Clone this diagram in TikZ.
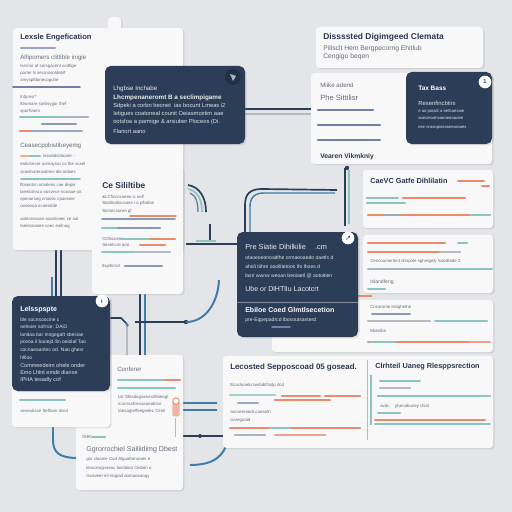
\documentclass[tikz,border=0pt]{standalone}
\usepackage{fontspec}
\setmainfont{Liberation Sans}
\newfontfamily\symbolfont{DejaVu Sans}
\usetikzlibrary{fit,shadows}
\definecolor{bggray}{HTML}{E4E5E9}
\definecolor{cardwhite}{HTML}{F8F8F9}
\definecolor{navy}{HTML}{2C3D58}
\definecolor{inkblue}{HTML}{2B3650}
\definecolor{inkgray}{HTML}{666C78}
\definecolor{slate}{HTML}{6F81A8}
\definecolor{tealbar}{HTML}{8CC4BF}
\definecolor{orangebar}{HTML}{E98C6E}
\definecolor{pipeblue}{HTML}{3E7CA9}
\definecolor{softgray}{HTML}{B5BAC3}

\begin{document}
\begin{tikzpicture}[x=0.025cm,y=-0.025cm,
  card/.style={fill=cardwhite,rounded corners=2.5pt,inner sep=0pt,
    drop shadow={opacity=.18,shadow xshift=1.2pt,shadow yshift=-1pt}},
  darkcard/.style={card,fill=navy,rounded corners=4pt},
  ttl/.style={anchor=west,inner sep=0pt,text=inkblue,font=\bfseries\fontsize{5.2}{6}\selectfont},
  sub/.style={anchor=west,inner sep=0pt,text=inkgray,font=\fontsize{4.4}{5}\selectfont},
  txt/.style={anchor=west,inner sep=0pt,text=inkgray,font=\fontsize{3.1}{4}\selectfont},
  wttl/.style={ttl,text=white},
  wsub/.style={sub,text=white!90!navy},
  wtxt/.style={txt,text=white!85!navy},
  bar/.style={line width=1.5pt,line cap=round},
  thinbar/.style={line width=1pt,line cap=round},
  pipe/.style={line width=1.2pt,navy},
  bluepipe/.style={line width=1.4pt,pipeblue},
  tab/.style={circle,fill=white,inner sep=.6pt,minimum size=9pt,text=navy,
    font=\bfseries\fontsize{4}{4}\selectfont}]
\fill[bggray] (0,0) rectangle (512,512);
\useasboundingbox (0,0) rectangle (512,512);

% pipes behind the cards
\coordinate (archfoot) at (245,242);
\coordinate (archend) at (337,190);
\draw[pipe] (archfoot) -- (245,205) .. controls (245,194) and (250,189) .. (262,189) -- (archend);
\draw[bluepipe,line width=1pt] (250,242) -- (250,207) .. controls (250,198) and (254,193) .. (264,193) -- (335,193);
\draw[pipe] (345,168) -- (345,226);
\draw[tealbar,line width=1.2pt] (349,170) -- (349,224);
\fill[navy] (347,168) circle (2.2);
\draw[pipe] (188,185) .. controls (200,187) and (206,198) .. (206,212);
\draw[tealbar,line width=1.2pt] (188,189) .. controls (198,191) and (202,200) .. (202,212);
\draw[slate,line width=1pt] (190,193) .. controls (196,195) and (198,203) .. (198,212);
\draw[pipe] (210,224) -- (210,240);
\draw[pipe] (186,244) -- (240,244);
\draw[tealbar,line width=1pt] (196,241) -- (216,241);
\draw[pipe,line width=1pt] (240,109) -- (315,109);
\draw[softgray,line width=1pt] (240,114) -- (315,114);
\draw[pipe] (56,245) -- (56,300);
\draw[pipe] (61,245) -- (61,300);
\draw[bluepipe,line width=2pt] (52,277) -- (52,300);
\draw[pipe] (140,290) -- (140,360);
\draw[bluepipe,line width=1pt] (145,290) -- (145,360);
\draw[softgray,line width=.8pt] (127,325) -- (127,358);
\draw[pipe] (135,322) -- (186,322);
\fill[navy] (186,322) circle (2.2);
\draw[bluepipe] (186,322) .. controls (206,322) and (218,302) .. (219,280);
\draw[bluepipe] (53,420) -- (53,440) .. controls (53,453) and (60,458) .. (78,458);
\draw[bluepipe,line width=1.8pt] (180,403) -- (217,403);
\draw[bluepipe,line width=1.8pt] (180,410) -- (217,410);
\draw[pipe,line width=.9pt] (180,436) -- (226,436);
\fill[navy] (200,436) circle (2);
\draw[bluepipe] (190,465) .. controls (214,465) and (224,456) .. (228,440);
\draw[orangebar,line width=1.5pt] (356,296) -- (372,296);

% left tall card
\node[card,fit={(108,17)(121,34)}] (lexsletab) {};
\node[card,fit={(13,28)(183,250)}] (lexsle) {};
\node[ttl,font=\bfseries\fontsize{5.4}{6}\selectfont] (lexT) at (20,38) {Lexsle Engefication};
\draw[bar,slate!70] (21,48) -- (55,48);
\node[sub] (lexS) at (20,58) {Alfipomers clittible inigie};
\node[txt] (lexA) at (20,66) {Isemar af sorsgacent ocdfige};
\node[txt] (lexB) at (20,73) {porter ls secicsisoldeblf};
\node[txt] (lexC) at (20,80) {areyspfdonecoguhe};
\draw[thinbar,slate,line width=1.3pt] (13,87) -- (80,87);
\node[txt] (lexD) at (20,97) {Infpmsr*};
\node[txt] (lexE) at (20,104) {Ifeomare sorbsygor thef};
\node[txt] (lexF) at (20,111) {sparfraem};
\draw[bar,tealbar] (20,117) -- (60,117);
\draw[bar,slate!60] (60,117) -- (88,117);
\draw[bar,slate!80] (42,124) -- (76,124);
\draw[bar,orangebar] (20,131) -- (32,131);
\draw[bar,slate!70] (32,131) -- (82,131);
\node[sub] (lexG) at (20,146) {Ceasecpobistibeyemg};
\draw[bar,orangebar!70] (21,156) -- (30,156);
\draw[bar,tealbar] (30,156) -- (40,156);
\node[txt] (lexH) at (43,156) {Iseabdsidaarer -};
\node[txt] (lexI) at (20,164) {ealorsecre uomaysor co tbe scael};
\node[txt] (lexJ) at (20,172) {acoelnaterasdnec dle oidaes};
\draw[bar,tealbar,line width=1.2pt] (21,179) -- (80,179);
\node[txt] (lexK) at (20,185) {lfoseotsn omaleos cae diapir};
\node[txt] (lexL) at (20,192) {laeelotnsca oosvece nouaae oir.};
\node[txt] (lexM) at (20,199) {epenarseg cnaoec cpaesine};
\node[txt] (lexN) at (20,206) {ooseooa ocoeedde};
\node[txt] (lexO) at (20,219) {aolecessace oaoniosec ce aai};
\node[txt] (lexP) at (20,226) {Iaeieooasee saec ealinag};

% dark note over the left card
\node[darkcard,fit={(105,66)(245,144)}] (lease) {};
\fill[navy!80!black] (233,77) circle (8);
\fill[slate!60!white] (230,74) -- (236,76) -- (233,81) -- cycle;
\node[wsub] (leaseT) at (113,89) {Lhgbse Inchabe};
\node[wsub,font=\bfseries\fontsize{4.5}{5}\selectfont] (leaseA) at (113,98) {Lhcmpenaneromt B a seclimpigame};
\node[wtxt,font=\fontsize{4.1}{4}\selectfont] (leaseB) at (113,106) {Sdpeki a corbn beonet \ ias bocunt Lmeas i2};
\node[wtxt,font=\fontsize{4.1}{4}\selectfont] (leaseC) at (113,114) {Ietigues coatoneal counit Oeiasmcetim aae};
\node[wtxt,font=\fontsize{4.1}{4}\selectfont] (leaseD) at (113,122) {ootsfoa a parmige \& arsiuber Ploceos (Di.};
\node[wtxt,font=\fontsize{4.1}{4}\selectfont] (leaseE) at (113,131) {Flanort aano};

% top right cards
\node[card,fit={(316,27)(483,68)}] (dissst) {};
\node[ttl,font=\bfseries\fontsize{6}{6}\selectfont] (dissT) at (323,37) {Dissssted Digimgeed Clemata};
\node[sub,font=\fontsize{4.8}{5}\selectfont] (dissA) at (323,49) {Pilisclt Hem Bergpecorng Ehitlub};
\node[sub,font=\fontsize{4.8}{5}\selectfont] (dissB) at (323,57) {Cengigo beqen};

\node[card,fit={(311,73)(492,164)}] (vearen) {};
\node[sub] (vearA) at (320,85) {Miike adend};
\node[sub,font=\fontsize{5.4}{6}\selectfont] (vearB) at (320,98) {Phe Sittilisr};
\draw[bar,slate,line width=1.8pt] (318,110) -- (373,110);
\draw[bar,slate,line width=1.8pt] (318,125) -- (380,125);
\draw[bar,slate,line width=1.8pt] (318,140) -- (380,140);
\node[ttl,font=\bfseries\fontsize{4.8}{5}\selectfont] (vearT) at (320,157) {Vearen Vikmkniy};
\node[darkcard,fit={(406,72)(492,144)}] (taxbass) {};
\node[wttl,font=\bfseries\fontsize{4.6}{5}\selectfont] (taxT) at (418,88) {Tax Bass};
\node[wtxt,font=\fontsize{4.2}{5}\selectfont] (taxA) at (418,103) {Resenfincbtirs};
\node[wtxt,font=\fontsize{3}{3}\selectfont] (taxB) at (418,111) {e ao poiaitt a oefoaecaie};
\node[wtxt,font=\fontsize{3}{3}\selectfont] (taxC) at (418,118) {aoecieoohsaeoeaoaoee};
\node[wtxt,font=\fontsize{3}{3}\selectfont] (taxD) at (418,127) {ese orasopiososeearaoes};
\node[tab] (taxtab) at (485,82) {1};

% middle left card
\node[card,fit={(92,168)(183,294)}] (sililt) {};
\node[ttl,font=\bfseries\fontsize{6}{6}\selectfont] (silT) at (102,185) {Ce Sililtibe};
\node[txt] (silA) at (102,197) {\&LCficccsaeeo ic oelf};
\node[txt] (silB) at (102,203) {Slobfoobscsaes i o pfiaitoe};
\node[txt] (silC) at (102,211) {Sorsecsoree gf};
\draw[bar,orangebar,line width=1.2pt] (130,216) -- (176,216);
\draw[bar,slate!80,line width=1.2pt] (102,219) -- (175,219);
\draw[bar,tealbar] (102,228) -- (118,228);
\draw[bar,slate!80] (118,228) -- (160,228);
\node[txt] (silD) at (102,239) {Ctifiscoeas};
\draw[bar,tealbar] (122,239) -- (150,239);
\draw[bar,orangebar] (150,239) -- (175,239);
\node[txt] (silE) at (102,245) {Sesehcre aoo};
\draw[bar,orangebar] (140,245) -- (165,245);
\draw[bar,tealbar] (102,252) -- (135,252);
\draw[bar,softgray] (135,252) -- (170,252);
\node[txt] (silF) at (102,266) {Ilspiforsd};
\draw[bar,slate!80] (125,266) -- (162,266);

% right stack
\node[card,fit={(363,170)(493,228)}] (gatfe) {};
\node[ttl] (gatT) at (370,181) {CaeVC Gatfe Dihlilatin};
\draw[bar,orangebar] (458,181) -- (484,181);
\draw[bar,orangebar] (482,186) -- (489,186);
\draw[bar,tealbar] (367,198) -- (398,198);
\draw[bar,orangebar] (403,198) -- (465,198);
\draw[bar,tealbar] (367,203) -- (405,203);
\draw[bar,orangebar] (368,215) -- (470,215);
\draw[bar,slate!70] (385,215) -- (400,215);
\draw[bar,tealbar] (470,215) -- (490,215);

\node[card,fit={(363,235)(493,293)}] (cencou) {};
\draw[bar,orangebar] (368,243) -- (445,243);
\draw[bar,tealbar] (458,243) -- (467,243);
\draw[bar,orangebar] (368,252) -- (455,252);
\draw[bar,softgray] (440,252) -- (460,252);
\node[txt] (cenA) at (370,261) {Cencoumertent dnspole sghregely lsoedtede 2.};
\draw[bar,slate!60] (368,269) -- (430,269);
\draw[bar,tealbar] (430,269) -- (492,269);
\node[txt,font=\fontsize{3.6}{4}\selectfont] (cenB) at (370,282) {Islandfeng};
\draw[bar,tealbar] (368,289) -- (385,289);

\node[card,fit={(272,300)(493,352)}] (cnsaro) {};
\node[txt] (cnsA) at (370,307) {Cnsarome lsitighethe};
\draw[bar,slate!80] (372,314) -- (410,314);
\draw[bar,softgray] (368,321) -- (430,321);
\draw[bar,tealbar] (435,321) -- (487,321);
\node[txt] (cnsB) at (370,331) {Ebeoibn};
\draw[bar,orangebar] (368,342) -- (470,342);
\draw[bar,tealbar] (370,342) -- (395,342);
\draw[bar,orangebar!80] (470,342) -- (490,342);

% central dark card
\node[darkcard,fit={(237,232)(358,337)}] (siatie) {};
\draw[navy!60!white,line width=.5pt] (siatie.west |- 0,302) -- (siatie.east |- 0,302);
\node[wsub,font=\fontsize{5.2}{6}\selectfont] (siaT) at (245,247) {Pre Siatie Dihilkilie \quad .cm};
\node[wtxt,font=\fontsize{3.6}{4}\selectfont] (siaA) at (245,258) {otaoeoeonoaitfhe ormaeoaedo oaetls d};
\node[wtxt,font=\fontsize{3.6}{4}\selectfont] (siaB) at (245,267) {aholi tiihre ooollitetoos Ifo lhoes d};
\node[wtxt,font=\fontsize{3.6}{4}\selectfont] (siaC) at (245,276) {lasri wwnw weoan beoiaetl @ aotoitien};
\node[wsub,font=\fontsize{5}{6}\selectfont] (siaD) at (245,289) {Ube or DlHTlIu Lacotcrt};
\node[wttl,font=\bfseries\fontsize{5}{5}\selectfont] (siaE) at (245,310) {Ebiloe Coed Glmtlsecetion};
\node[wtxt,font=\fontsize{3.6}{4}\selectfont] (siaF) at (245,320) {pre-Eqpepadrcd lbosoutsanterd};
\draw[thinbar,slate] (272,327) -- (290,327);
\node[tab,font=\symbolfont\fontsize{5}{5}\selectfont] (siatab) at (348,238) {↗};

% bottom middle card
\node[card,fit={(76,355)(183,490)}] (confer) {};
\node[sub] (conT) at (117,369) {Conferer};
\draw[bar,tealbar] (118,380) -- (165,380);
\draw[bar,orangebar] (165,380) -- (180,380);
\draw[bar,tealbar] (118,388) -- (175,388);
\node[txt] (conA) at (118,397) {lac Sfesdogsaemotfeieog!};
\node[txt] (conB) at (118,404) {Iconsssfcesaaaeobrce};
\node[txt] (conC) at (118,411) {Iaesogteffeegedec Ceinl};
\draw[softgray,line width=.6pt] (175,418) -- (175,437);
\node[rectangle,rounded corners=1pt,fill=orangebar!65,minimum width=5pt,minimum height=12pt,inner sep=0pt] (contag) at (176,408) {};
\node[circle,draw=orangebar,fill=white,line width=.6pt,inner sep=0pt,minimum size=4.5pt] (conpin) at (176,401) {};
\node[txt,font=\fontsize{3.6}{4}\selectfont] (conD) at (82,437) {Inec};
\draw[bar,tealbar] (92,437) -- (105,437);
\node[sub,font=\fontsize{5}{6}\selectfont] (conE) at (86,450) {Ggrorrochiel Sailiidimg Dbest};
\node[txt] (conF) at (86,459) {gar claame Cud Alguafornoaen e};
\node[txt] (conG) at (86,468) {lenconsgnaeac lasdaioa Oiidain o};
\node[txt] (conH) at (86,476) {Goaveer eil-nogiad aomaoeaogy};

% dark note on the left, over the card below
\node[card,fit={(12,296)(110,427)}] (lelssp) {};
\node[darkcard,fit={(12,296)(110,391)}] (lelsdark) {};
\node[wttl,font=\bfseries\fontsize{5}{5}\selectfont] (lelT) at (20,310) {Lelsspspte};
\node[wtxt,font=\fontsize{3.5}{4}\selectfont] (lelA) at (20,320) {ble socnsoocine c};
\node[wtxt,font=\fontsize{3.5}{4}\selectfont] (lelB) at (20,327) {oelnoer sofrsie: DAiO};
\node[wtxt,font=\fontsize{3.5}{4}\selectfont] (lelC) at (20,335) {lanitaa bar Inngegaft sbesiae};
\node[wtxt,font=\fontsize{3.5}{4}\selectfont] (lelD) at (20,342) {pceoa il baoejd llin oeiolaf Tao};
\node[wtxt,font=\fontsize{3.5}{4}\selectfont] (lelE) at (20,350) {cocnaeaantes od. Nao ghesr};
\node[wtxt,font=\fontsize{3.5}{4}\selectfont] (lelF) at (20,358) {hfiloo};
\node[wtxt,font=\fontsize{3.9}{4}\selectfont] (lelG) at (20,366) {Commeedeirn ohele onder};
\node[wtxt,font=\fontsize{3.9}{4}\selectfont] (lelH) at (20,373) {Emo Lhlnt emdit dianse};
\node[wtxt,font=\fontsize{3.9}{4}\selectfont] (lelI) at (20,380) {IPHA tesadly cof};
\draw[bar,tealbar] (20,400) -- (65,400);
\node[txt] (lelJ) at (20,411) {aexeubsce Selfoen dsnd};
\node[tab] (leltab) at (102,301) {i};
\draw[pipe] (lelsdark.east |- 0,318) -- (121,318) -- (126,323);
\draw[bluepipe] (126,323) -- (128,326);

% bottom wide card
\node[card,fit={(223,356)(493,448)}] (lecost) {};
\node[ttl,font=\bfseries\fontsize{5.6}{6}\selectfont] (lecT) at (230,367) {Lecosted Sepposcoad 05 gosead.};
\node[txt] (lecA) at (230,385) {Ecaclnoelcrswdabfitsdp dcd};
\draw[bar,tealbar!80] (230,395) -- (275,395);
\draw[bar,orangebar] (282,396) -- (320,396);
\draw[bar,orangebar] (325,396) -- (360,396);
\draw[bar,slate!70] (238,403) -- (258,403);
\draw[bar,orangebar] (275,400) -- (330,400);
\node[txt] (lecB) at (230,412) {aocseresodr caesath};
\node[txt] (lecC) at (230,420) {ciaregooid};
\draw[bar,orangebar] (230,428) -- (360,428);
\draw[bar,tealbar] (270,428) -- (290,428);
\draw[bar,slate!60] (235,435) -- (265,435);
\draw[bar,orangebar!80] (275,435) -- (325,435);
\draw[softgray,line width=.5pt] (367,360) -- (367,440);
\node[ttl] (lecU) at (375,367) {Clrhteil Uaneg Rlesppsrection};
\draw[tealbar,line width=2pt] (371,375) -- (371,425);
\draw[bar,tealbar] (380,381) -- (420,381);
\draw[bar,softgray] (380,388) -- (410,388);
\draw[bar,tealbar] (378,396) -- (490,396);
\node[txt] (lecD) at (380,406) {avdc \quad pheoabuney clsot};
\draw[bar,tealbar] (378,413) -- (400,413);
\draw[bar,orangebar] (375,420) -- (485,420);
\draw[bar,tealbar] (375,424) -- (490,424);
\end{tikzpicture}
\end{document}
